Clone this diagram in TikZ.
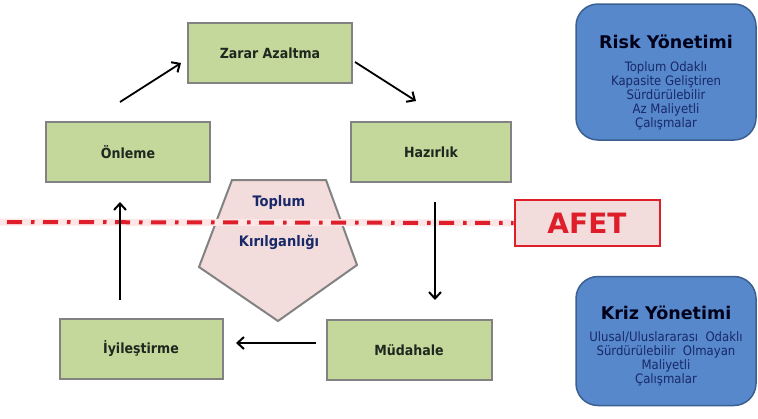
\documentclass[tikz,border=0pt]{standalone}
\usepackage{fontspec}
\setmainfont{DejaVu Sans}
\newfontfamily\condfont{DejaVu Sans Condensed}
\usetikzlibrary{arrows.meta}
\definecolor{gfill}{RGB}{197,216,156}
\definecolor{gborder}{RGB}{130,130,130}
\definecolor{bfill}{RGB}{86,136,203}
\definecolor{bborder}{RGB}{60,95,145}
\definecolor{pfill}{RGB}{243,221,220}
\definecolor{afetred}{RGB}{222,30,42}
\definecolor{halo}{RGB}{252,230,230}
\definecolor{navy}{RGB}{25,40,105}
\definecolor{dtext}{RGB}{30,40,30}
\tikzset{
  stagebox/.style={draw=gborder, fill=gfill, line width=2pt, minimum height=60pt, inner sep=0pt,
    font=\condfont\fontsize{14}{16}\selectfont\bfseries, text=dtext},
  mgmtbox/.style={draw=bborder, fill=bfill, line width=1.5pt, rounded corners=22pt, minimum width=180pt, inner sep=0pt},
  mgmttitle/.style={font=\fontsize{17.5}{20}\selectfont\bfseries, text=black!90!blue},
  mgmtbody/.style={font=\condfont\fontsize{13}{14}\selectfont, text=navy, align=center, inner sep=0pt},
  cyc/.style={line width=1.8pt, -{Straight Barb[length=6.5pt,width=12pt,line width=2pt]}},
  vuln/.style={font=\condfont\fontsize{14.5}{16}\selectfont\bfseries, text=navy}
}
\begin{document}
\begin{tikzpicture}[x=1pt,y=-1pt]
\useasboundingbox (0,0) rectangle (758,418);
% stage boxes
\node[stagebox, minimum width=164pt] (zarar) at (270,53) {Zarar Azaltma};
\node[stagebox, minimum width=164pt] (onleme) at (128,152) {Önleme};
\node[stagebox, minimum width=160pt] (hazirlik) at (431,152) {Hazırlık};
\node[stagebox, minimum width=163pt] (iyiles) at (141,349) {İyileştirme};
\node[stagebox, minimum width=165pt] (mudahale) at (409,350) {Müdahale};
% pentagon
\coordinate (ptl) at (232,180);
\coordinate (ptr) at (326,180);
\coordinate (pr) at (357,265);
\coordinate (pb) at (278,321);
\coordinate (pl) at (199,267);
\draw[gborder, fill=pfill, line width=2pt, line join=miter] (ptl) -- (ptr) -- (pr) -- (pb) -- (pl) -- cycle;
\node[vuln] (toplum) at (279,202) {Toplum};
\node[vuln] (kiril) at (279,242) {Kırılganlığı};
% AFET
\node[draw=afetred, fill=pfill, line width=2pt, minimum width=145pt, minimum height=46pt, inner sep=0pt,
  font=\fontsize{28}{30}\selectfont\bfseries, text=afetred] (afet) at (587,223) {AFET};
\coordinate (lstart) at (0,222);
\draw[halo, line width=7pt] (lstart) -- (afet.west);
\draw[afetred, line width=4pt, dash pattern=on 15pt off 9pt on 3.5pt off 8.5pt, dash phase=-7pt] (lstart) -- (afet.west);
% cycle arrows
\coordinate (a1s) at (120,102); \coordinate (a1e) at (181,63);
\coordinate (a2s) at (355,62); \coordinate (a2e) at (416,101);
\coordinate (a3s) at (435,202); \coordinate (a3e) at (435,300);
\coordinate (a4s) at (316,343); \coordinate (a4e) at (236,343);
\coordinate (a5s) at (120,300); \coordinate (a5e) at (120,202);
\draw[cyc] (a1s) -- (a1e);
\draw[cyc] (a2s) -- (a2e);
\draw[cyc] (a3s) -- (a3e);
\draw[cyc] (a4s) -- (a4e);
\draw[cyc] (a5s) -- (a5e);
% management boxes
\node[mgmtbox, minimum height=136pt] (risk) at (666,72) {};
\node[mgmttitle] (risktitle) at (666,42) {Risk Yönetimi};
\node[mgmtbody] (risktext) at (666,96) {Toplum Odaklı\\Kapasite Geliştiren\\Sürdürülebilir\\Az Maliyetli\\Çalışmalar};
\node[mgmtbox, minimum height=129pt] (kriz) at (666,341) {};
\node[mgmttitle] (kriztitle) at (666,313) {Kriz Yönetimi};
\node[mgmtbody] (kriztext) at (666,359) {Ulusal/Uluslararası~ Odaklı\\Sürdürülebilir~ Olmayan\\Maliyetli\\Çalışmalar};
\end{tikzpicture}
\end{document}
